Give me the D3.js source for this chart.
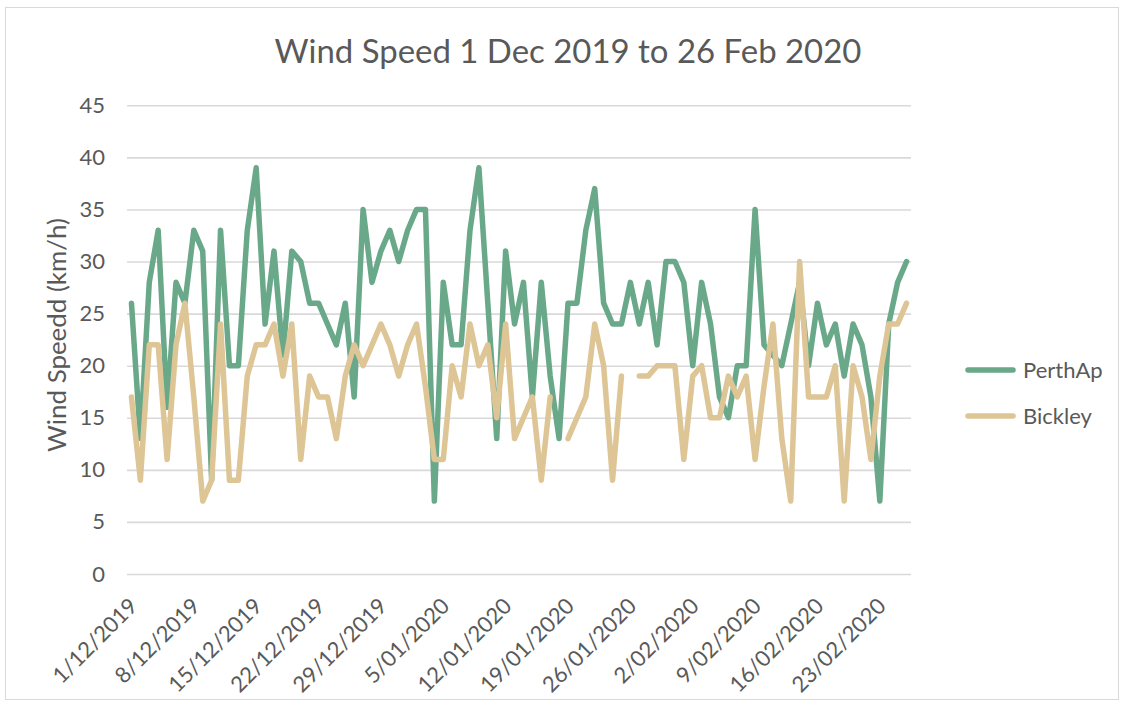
<!DOCTYPE html>
<html>
<head>
<meta charset="utf-8">
<script src="https://cdn.jsdelivr.net/npm/d3@7"></script>
<style>
  html, body { margin: 0; padding: 0; background: #fff; }
  svg { display: block; }
  text { font-family: Lato, "Open Sans", sans-serif; fill: #595959; }
</style>
</head>
<body>
<svg id="chart" width="1125" height="704"></svg>
<script>
// ---------- DATA ----------
const titleText = "Wind Speed 1 Dec 2019 to 26 Feb 2020";
const yAxisTitle = "Wind Speedd (km/h)";

const categories = [
  "1/12/2019","2/12/2019","3/12/2019","4/12/2019","5/12/2019","6/12/2019","7/12/2019",
  "8/12/2019","9/12/2019","10/12/2019","11/12/2019","12/12/2019","13/12/2019","14/12/2019",
  "15/12/2019","16/12/2019","17/12/2019","18/12/2019","19/12/2019","20/12/2019","21/12/2019",
  "22/12/2019","23/12/2019","24/12/2019","25/12/2019","26/12/2019","27/12/2019","28/12/2019",
  "29/12/2019","30/12/2019","31/12/2019","1/01/2020","2/01/2020","3/01/2020","4/01/2020",
  "5/01/2020","6/01/2020","7/01/2020","8/01/2020","9/01/2020","10/01/2020","11/01/2020",
  "12/01/2020","13/01/2020","14/01/2020","15/01/2020","16/01/2020","17/01/2020","18/01/2020",
  "19/01/2020","20/01/2020","21/01/2020","22/01/2020","23/01/2020","24/01/2020","25/01/2020",
  "26/01/2020","27/01/2020","28/01/2020","29/01/2020","30/01/2020","31/01/2020","1/02/2020",
  "2/02/2020","3/02/2020","4/02/2020","5/02/2020","6/02/2020","7/02/2020","8/02/2020",
  "9/02/2020","10/02/2020","11/02/2020","12/02/2020","13/02/2020","14/02/2020","15/02/2020",
  "16/02/2020","17/02/2020","18/02/2020","19/02/2020","20/02/2020","21/02/2020","22/02/2020",
  "23/02/2020","24/02/2020","25/02/2020","26/02/2020"
];

const perthAp = [
  26,13,28,33,16,28,26,33,31,9,33,20,20,33,39,24,31,21,31,30,26,
  26,24,22,26,17,35,28,31,33,30,33,35,35,7,28,22,22,33,39,26,13,
  31,24,28,17,28,19,13,26,26,33,37,26,24,24,28,24,28,22,30,30,28,
  20,28,24,17,15,20,20,35,22,21,20,24,28,20,26,22,24,19,24,22,17,
  7,24,28,30
];

const bickley = [
  17,9,22,22,11,22,26,17,7,9,24,9,9,19,22,22,24,19,24,11,19,
  17,17,13,19,22,20,22,24,22,19,22,24,18,11,11,20,17,24,20,22,15,
  24,13,15,17,9,17,null,13,15,17,24,20,9,19,null,19,19,20,20,20,11,
  19,20,15,15,19,17,19,11,18,24,13,7,30,17,17,17,20,7,20,17,11,
  19,24,24,26
];

const seriesNames = ["PerthAp", "Bickley"];
const seriesColors = ["#6aa88a", "#ddc595"];
const yTicks = [0, 5, 10, 15, 20, 25, 30, 35, 40, 45];
const xTickLabels = [
  "1/12/2019","8/12/2019","15/12/2019","22/12/2019","29/12/2019","5/01/2020",
  "12/01/2020","19/01/2020","26/01/2020","2/02/2020","9/02/2020","16/02/2020","23/02/2020"
];

// ---------- LAYOUT ----------
const svg = d3.select("#chart");
const plot = { left: 127, right: 911, top: 105.3, bottom: 574 };

svg.append("rect")
  .attr("x", 5.5).attr("y", 7.5).attr("width", 1113).attr("height", 692)
  .attr("fill", "#fff").attr("stroke", "#d9d9d9").attr("stroke-width", 1);

const x = d3.scalePoint().domain(categories).range([plot.left, plot.right]).padding(0.5);
const y = d3.scaleLinear().domain([0, 45]).range([plot.bottom, plot.top]);

// gridlines + y labels via axis
const yAxis = d3.axisLeft(y).tickValues(yTicks).tickSize(-(plot.right - plot.left)).tickPadding(22);
const gy = svg.append("g").attr("transform", `translate(${plot.left},0)`).call(yAxis);
gy.select(".domain").remove();
gy.selectAll(".tick line").attr("stroke", "#d9d9d9").attr("stroke-width", 1.6);
gy.selectAll(".tick text")
  .attr("font-family", "Lato, 'Open Sans', sans-serif")
  .attr("font-size", 22).attr("fill", "#595959");

// x tick labels (rotated)
const gx = svg.append("g");
gx.selectAll("text").data(xTickLabels).enter().append("text")
  .attr("transform", d => `translate(${x(d) + 2},${602}) rotate(-45)`)
  .attr("text-anchor", "end")
  .attr("dy", "0.35em")
  .attr("font-size", 22)
  .text(d => d);

// lines
const series = [perthAp, bickley];
const line = d3.line()
  .defined(d => d.v != null)
  .x(d => x(d.c))
  .y(d => y(d.v));

series.forEach((vals, si) => {
  const pts = categories.map((c, i) => ({ c, v: vals[i] }));
  svg.append("path")
    .datum(pts)
    .attr("fill", "none")
    .attr("stroke", seriesColors[si])
    .attr("stroke-width", 5.5)
    .attr("stroke-linejoin", "round")
    .attr("stroke-linecap", "round")
    .attr("d", line);
});

// title (fit to reference width)
const title = svg.append("text")
  .attr("x", 568).attr("y", 63)
  .attr("text-anchor", "middle")
  .attr("font-size", 32)
  .text(titleText);
const tw = title.node().getComputedTextLength();
title.attr("font-size", 32 * 587 / tw);

// y axis title (fit to reference length)
const yt = svg.append("text")
  .attr("transform", "translate(57,335) rotate(-90)")
  .attr("text-anchor", "middle")
  .attr("dy", "0.35em")
  .attr("font-size", 22)
  .text(yAxisTitle);
const ytw = yt.node().getComputedTextLength();
yt.attr("font-size", 22 * 234 / ytw);

// legend
const legend = svg.append("g");
seriesNames.forEach((name, i) => {
  const ly = 370 + i * 46;
  legend.append("line")
    .attr("x1", 968).attr("x2", 1013).attr("y1", ly).attr("y2", ly)
    .attr("stroke", seriesColors[i]).attr("stroke-width", 5.5)
    .attr("stroke-linecap", "round");
  legend.append("text")
    .attr("x", 1023).attr("y", ly).attr("dy", "0.35em")
    .attr("font-size", 22)
    .text(name);
});
</script>
</body>
</html>
